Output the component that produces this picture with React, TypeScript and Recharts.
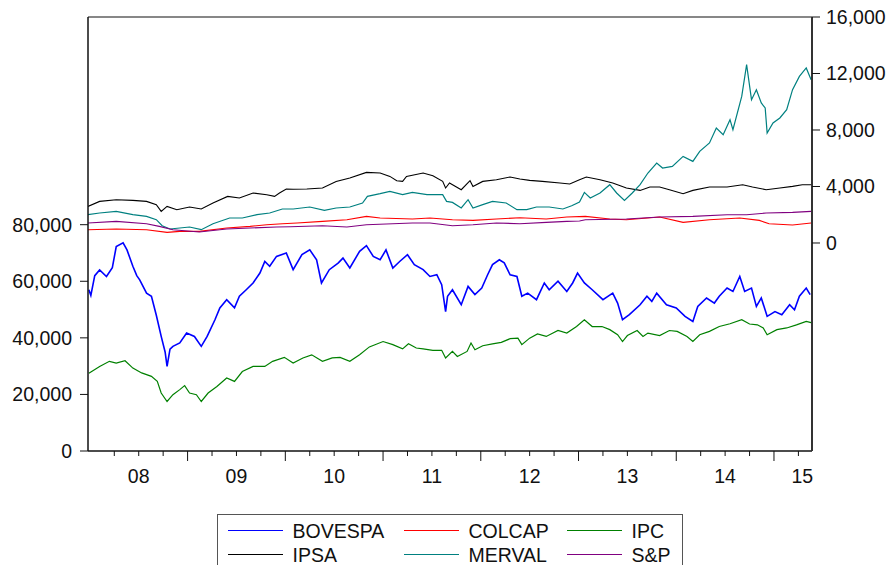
import { LineChart, Line, XAxis, YAxis, ReferenceLine, Legend } from 'recharts';

const FONT = '"Liberation Sans", Arial, Helvetica, sans-serif';

const bovespaYears = [
  2007.99, 2008.01, 2008.05, 2008.1, 2008.17, 2008.23, 2008.27, 2008.34, 2008.38, 2008.44, 2008.48, 2008.51,
  2008.58, 2008.63, 2008.68, 2008.73, 2008.77, 2008.79, 2008.82, 2008.85, 2008.92, 2008.99, 2009.07, 2009.14,
  2009.2, 2009.28, 2009.33, 2009.4, 2009.48, 2009.53, 2009.6, 2009.67, 2009.74, 2009.79, 2009.84, 2009.91,
  2010.01, 2010.08, 2010.17, 2010.25, 2010.32, 2010.37, 2010.45, 2010.54, 2010.59, 2010.66, 2010.76, 2010.83,
  2010.9, 2010.97, 2011.03, 2011.1, 2011.17, 2011.25, 2011.32, 2011.41, 2011.48, 2011.55, 2011.6, 2011.64,
  2011.66, 2011.71, 2011.8, 2011.87, 2011.94, 2012.01, 2012.07, 2012.12, 2012.19, 2012.24, 2012.3, 2012.37,
  2012.42, 2012.48, 2012.57, 2012.65, 2012.7, 2012.79, 2012.88, 2012.94, 2012.99, 2013.06, 2013.14, 2013.25,
  2013.35, 2013.4, 2013.45, 2013.52, 2013.63, 2013.7, 2013.75, 2013.8, 2013.9, 2014.0, 2014.09, 2014.17,
  2014.22, 2014.31, 2014.39, 2014.44, 2014.52, 2014.58, 2014.65, 2014.7, 2014.77, 2014.82, 2014.87, 2014.93,
  2015.01, 2015.08, 2015.16, 2015.21, 2015.26, 2015.33, 2015.37,
];
const bovespaValues = [
  57000, 55000, 62000, 64000, 61700, 64800, 72300, 73600, 71100, 65300, 62000, 60500,
  55800, 54700, 48000, 40500, 35000, 29900, 36000, 37000, 38200, 41700, 40500, 37000,
  40500, 46400, 50600, 53500, 50600, 54700, 57000, 59400, 62900, 67000, 65300, 68800,
  70000, 64100, 69400, 71100, 67600, 59400, 64100, 66400, 68200, 64700, 70600, 72600,
  68800, 67600, 71100, 64700, 67000, 69400, 65900, 64100, 61700, 62300, 58800, 49300,
  54700, 57000, 51700, 58200, 55300, 57600, 62300, 65900, 67600, 66500, 62300, 61700,
  54700, 55800, 53500, 59400, 57000, 60000, 56400, 59400, 62900, 59400, 57000, 53500,
  55800, 52300, 46400, 48200, 51700, 54700, 52900, 55800, 51700, 50600, 47600, 45800,
  51100, 54100, 52300, 54700, 57600, 56400, 61700, 56400, 57600, 51100, 54100, 47600,
  49300, 48200, 51700, 49900, 54700, 57600, 55300,
];

const ipcYears = [
  2007.99, 2008.1, 2008.2, 2008.27, 2008.36, 2008.44, 2008.53, 2008.63, 2008.69, 2008.73, 2008.79, 2008.85,
  2008.92, 2008.97, 2009.02, 2009.09, 2009.14, 2009.21, 2009.3, 2009.4, 2009.48, 2009.56, 2009.67, 2009.79,
  2009.87, 2009.99, 2010.08, 2010.18, 2010.27, 2010.38, 2010.48, 2010.56, 2010.66, 2010.76, 2010.86, 2011.0,
  2011.1, 2011.2, 2011.26, 2011.34, 2011.41, 2011.51, 2011.6, 2011.64, 2011.71, 2011.76, 2011.86, 2011.9,
  2011.94, 2012.02, 2012.12, 2012.21, 2012.3, 2012.38, 2012.42, 2012.5, 2012.58, 2012.67, 2012.79, 2012.88,
  2012.98, 2013.06, 2013.14, 2013.24, 2013.32, 2013.4, 2013.45, 2013.5, 2013.6, 2013.66, 2013.71, 2013.83,
  2013.93, 2014.01, 2014.11, 2014.17, 2014.24, 2014.34, 2014.44, 2014.55, 2014.67, 2014.75, 2014.83, 2014.89,
  2014.93, 2015.03, 2015.13, 2015.23, 2015.33, 2015.38,
];
const ipcValues = [
  27500, 29900, 31700, 31100, 31900, 29300, 27600, 26400, 24600, 20500, 17500, 19900,
  21700, 23100, 20500, 19900, 17500, 20500, 22800, 25800, 24600, 28100, 29900, 29900,
  31700, 33100, 31100, 32900, 34000, 31700, 32900, 33100, 31700, 34000, 36800, 38700,
  37600, 36100, 37900, 36400, 36100, 35600, 35600, 32900, 35200, 33400, 35200, 38200,
  35800, 37200, 37900, 38400, 39700, 39900, 37600, 39900, 41400, 40500, 42600, 41700,
  44000, 46400, 44000, 44000, 42900, 41100, 38700, 40800, 42600, 40500, 41700, 40800,
  42600, 42300, 40500, 38700, 41100, 42300, 44000, 45000, 46400, 44900, 44600, 43500,
  41100, 42900, 43500, 44600, 45800, 45400,
];

const ipsaYears = [
  2007.98, 2008.1, 2008.27, 2008.44, 2008.58, 2008.68, 2008.73, 2008.79, 2008.89, 2009.02, 2009.14, 2009.26,
  2009.41, 2009.53, 2009.67, 2009.81, 2009.89, 2009.94, 2010.01, 2010.08, 2010.22, 2010.38, 2010.52, 2010.66,
  2010.83, 2010.97, 2011.07, 2011.14, 2011.2, 2011.24, 2011.41, 2011.51, 2011.61, 2011.64, 2011.68, 2011.8,
  2011.89, 2011.92, 2012.02, 2012.16, 2012.3, 2012.4, 2012.5, 2012.63, 2012.81, 2012.91, 2013.01, 2013.08,
  2013.22, 2013.35, 2013.49, 2013.63, 2013.73, 2013.83, 2013.93, 2014.07, 2014.17, 2014.34, 2014.52, 2014.68,
  2014.78, 2014.92, 2015.06, 2015.19, 2015.29, 2015.38,
];
const ipsaValues = [
  2590, 2945, 3065, 3016, 2945, 2712, 2237, 2590, 2358, 2549, 2407, 2832,
  3300, 3186, 3540, 3420, 3300, 3540, 3823, 3800, 3823, 3894, 4361, 4602,
  5000, 4956, 4715, 4411, 4361, 4715, 4956, 4765, 4361, 3894, 4248, 3774,
  4411, 4007, 4361, 4482, 4673, 4531, 4432, 4361, 4248, 4177, 4482, 4673,
  4482, 4248, 3894, 3724, 3965, 3965, 3774, 3490, 3724, 3965, 3965, 4128,
  3965, 3774, 3894, 4007, 4128, 4128,
];

const mervalYears = [
  2007.98, 2008.1, 2008.27, 2008.44, 2008.58, 2008.68, 2008.74, 2008.82, 2008.92, 2009.02, 2009.14, 2009.26,
  2009.43, 2009.56, 2009.71, 2009.84, 2009.97, 2010.08, 2010.25, 2010.4, 2010.52, 2010.66, 2010.79, 2010.84,
  2010.97, 2011.07, 2011.2, 2011.3, 2011.45, 2011.61, 2011.65, 2011.71, 2011.8, 2011.87, 2011.92, 2012.02,
  2012.12, 2012.26, 2012.37, 2012.47, 2012.57, 2012.7, 2012.84, 2012.93, 2013.01, 2013.06, 2013.12, 2013.22,
  2013.32, 2013.39, 2013.47, 2013.55, 2013.63, 2013.71, 2013.8, 2013.86, 2013.96, 2014.07, 2014.17, 2014.24,
  2014.34, 2014.41, 2014.48, 2014.55, 2014.58, 2014.67, 2014.72, 2014.77, 2014.82, 2014.87, 2014.91, 2014.93,
  2014.99, 2015.06, 2015.13, 2015.19, 2015.26, 2015.33, 2015.38,
];
const mervalValues = [
  2004, 2124, 2237, 2004, 1883, 1650, 1225, 991, 1062, 1133, 942, 1366,
  1770, 1770, 2004, 2124, 2407, 2407, 2549, 2308, 2478, 2549, 2832, 3300,
  3490, 3653, 3420, 3582, 3420, 3420, 2945, 2874, 2478, 3065, 2478, 2712,
  2945, 2832, 2358, 2358, 2549, 2549, 2407, 2641, 2900, 3582, 3186, 3540,
  4128, 3540, 3016, 3540, 4128, 4956, 5664, 5310, 5423, 6131, 5777, 6485,
  7080, 8142, 7668, 8730, 8022, 10379, 12624, 10146, 10854, 9912, 9558, 7788,
  8496, 8850, 9438, 10854, 11795, 12390, 11562,
];

const colcapYears = [
  2007.98, 2008.27, 2008.58, 2008.79, 2008.92, 2009.12, 2009.4, 2009.64, 2009.81, 2009.97, 2010.12, 2010.38,
  2010.63, 2010.83, 2010.97, 2011.3, 2011.48, 2011.71, 2011.92, 2012.16, 2012.4, 2012.67, 2012.88, 2013.07,
  2013.32, 2013.49, 2013.83, 2014.07, 2014.34, 2014.65, 2014.85, 2014.95, 2015.19, 2015.38,
];
const colcapValues = [
  942, 991, 942, 750, 821, 821, 1062, 1175, 1296, 1366, 1416, 1529,
  1650, 1883, 1770, 1699, 1770, 1650, 1600, 1699, 1791, 1699, 1841, 1883,
  1699, 1650, 1841, 1458, 1650, 1770, 1600, 1366, 1274, 1416,
];

const spYears = [
  2007.98, 2008.27, 2008.58, 2008.71, 2008.85, 2009.12, 2009.4, 2009.64, 2009.91, 2010.05, 2010.38, 2010.63,
  2010.83, 2011.3, 2011.48, 2011.71, 2011.92, 2012.16, 2012.4, 2012.67, 2012.88, 2013.01, 2013.07, 2013.49,
  2013.83, 2014.17, 2014.52, 2014.72, 2014.92, 2015.19, 2015.38,
];
const spValues = [
  1416, 1529, 1366, 1175, 942, 779, 991, 1062, 1133, 1150, 1225, 1133,
  1296, 1416, 1416, 1225, 1296, 1416, 1366, 1458, 1529, 1560, 1650, 1699,
  1841, 1883, 2004, 2004, 2124, 2166, 2237,
];

const leftTicks = [0, 20000, 40000, 60000, 80000];
const rightTicks = [0, 4000, 8000, 12000, 16000];
const yearLabels = ['08', '09', '10', '11', '12', '13', '14', '15'];
const yearLabelAt = [2008.5, 2009.5, 2010.5, 2011.5, 2012.5, 2013.5, 2014.5, 2015.29];

const X_DOMAIN: [number, number] = [2007.981, 2015.389];
const LEFT_DOMAIN: [number, number] = [0, 153425];
const RIGHT_DOMAIN: [number, number] = [-14726, 16000];

const quarterTicks = Array.from({ length: 29 }, (_, i) => 2008.25 + i * 0.25);
const xTicks = [...quarterTicks, yearLabelAt[yearLabelAt.length - 1]];

const zip = (years: number[], values: number[]) => years.map((yr, i) => ({ yr, v: values[i] }));

const series = [
  { name: 'BOVESPA', data: zip(bovespaYears, bovespaValues), color: '#0000ff', axis: 'left', width: 1.6 },
  { name: 'COLCAP', data: zip(colcapYears, colcapValues), color: '#ff0000', axis: 'right', width: 1.1 },
  { name: 'IPC', data: zip(ipcYears, ipcValues), color: '#008000', axis: 'left', width: 1.2 },
  { name: 'IPSA', data: zip(ipsaYears, ipsaValues), color: '#000000', axis: 'right', width: 1.1 },
  { name: 'MERVAL', data: zip(mervalYears, mervalValues), color: '#008080', axis: 'right', width: 1.2 },
  { name: 'S&P', data: zip(spYears, spValues), color: '#800080', axis: 'right', width: 1.1 },
];

const tickText = { fontFamily: FONT, fontSize: 19.5, fill: '#111' };
const fmt = (n: number) => n.toLocaleString('en-US');

// eslint-disable-next-line @typescript-eslint/no-explicit-any
const XTick = (props: any) => {
  const { x, y, payload } = props;
  const v: number = payload.value;
  const li = yearLabelAt.findIndex((a) => Math.abs(a - v) < 1e-6);
  const isQuarter = quarterTicks.some((q) => Math.abs(q - v) < 1e-6);
  const major = Math.abs(v - Math.round(v)) < 1e-6;
  return (
    <g>
      {isQuarter && <line x1={x} x2={x} y1={y} y2={y + (major ? 10 : 5)} stroke="#111" strokeWidth={1} />}
      {li >= 0 && (
        <text x={x} y={y + 32} textAnchor="middle" {...tickText}>
          {yearLabels[li]}
        </text>
      )}
    </g>
  );
};

// label positions in the legend box: three columns, two rows
const legendCols = [10, 186, 349];
const legendRows = [4, 28];

const LegendBox = () => (
  <div
    style={{
      position: 'relative',
      width: 464,
      height: 80,
      border: '1.5px solid #555',
      background: '#fff',
      fontFamily: FONT,
      fontSize: 19.5,
      color: '#111',
    }}
  >
    {series.map((s, i) => (
      <div
        key={s.name}
        style={{
          position: 'absolute',
          left: legendCols[i % 3],
          top: legendRows[Math.floor(i / 3)],
          height: 24,
          display: 'flex',
          alignItems: 'center',
          whiteSpace: 'nowrap',
        }}
      >
        <span style={{ display: 'inline-block', width: 55, borderTop: `1.5px solid ${s.color}`, marginRight: 10 }} />
        <span style={{ lineHeight: '24px' }}>{s.name}</span>
      </div>
    ))}
  </div>
);

export default function App() {
  return (
    <div style={{ width: 890, height: 565, overflow: 'hidden', background: '#fff' }}>
      <style>{'body{margin:0}'}</style>
      <LineChart width={890} height={565} margin={{ top: 17, right: 0, bottom: 74, left: 0 }}>
        <XAxis
          dataKey="yr"
          type="number"
          domain={X_DOMAIN}
          allowDataOverflow
          ticks={xTicks}
          interval={0}
          tick={<XTick />}
          tickLine={false}
          tickSize={0}
          tickMargin={0}
          height={40}
          axisLine={{ stroke: '#111', strokeWidth: 1.5 }}
        />
        <YAxis
          yAxisId="left"
          type="number"
          domain={LEFT_DOMAIN}
          allowDataOverflow
          ticks={leftTicks}
          interval={0}
          tickFormatter={fmt}
          width={88}
          tickSize={8}
          tickMargin={8}
          tick={tickText}
          tickLine={{ stroke: '#111' }}
          axisLine={{ stroke: '#111', strokeWidth: 1.5 }}
        />
        <YAxis
          yAxisId="right"
          orientation="right"
          type="number"
          domain={RIGHT_DOMAIN}
          allowDataOverflow
          ticks={rightTicks}
          interval={0}
          tickFormatter={fmt}
          width={78}
          tickSize={8}
          tickMargin={6}
          tick={tickText}
          tickLine={{ stroke: '#111' }}
          axisLine={{ stroke: '#333', strokeWidth: 2 }}
        />
        <ReferenceLine yAxisId="right" y={16000} stroke="#111" strokeWidth={1.2} />
        {series.map((s) => (
          <Line
            key={s.name}
            data={s.data}
            dataKey="v"
            name={s.name}
            yAxisId={s.axis}
            type="linear"
            stroke={s.color}
            strokeWidth={s.width}
            dot={false}
            activeDot={false}
            isAnimationActive={false}
          />
        ))}
        <Legend
          layout="horizontal"
          verticalAlign="middle"
          align="center"
          content={<LegendBox />}
          wrapperStyle={{ left: 216.5, top: 513.5, width: 'auto', height: 'auto' }}
        />
      </LineChart>
    </div>
  );
}
